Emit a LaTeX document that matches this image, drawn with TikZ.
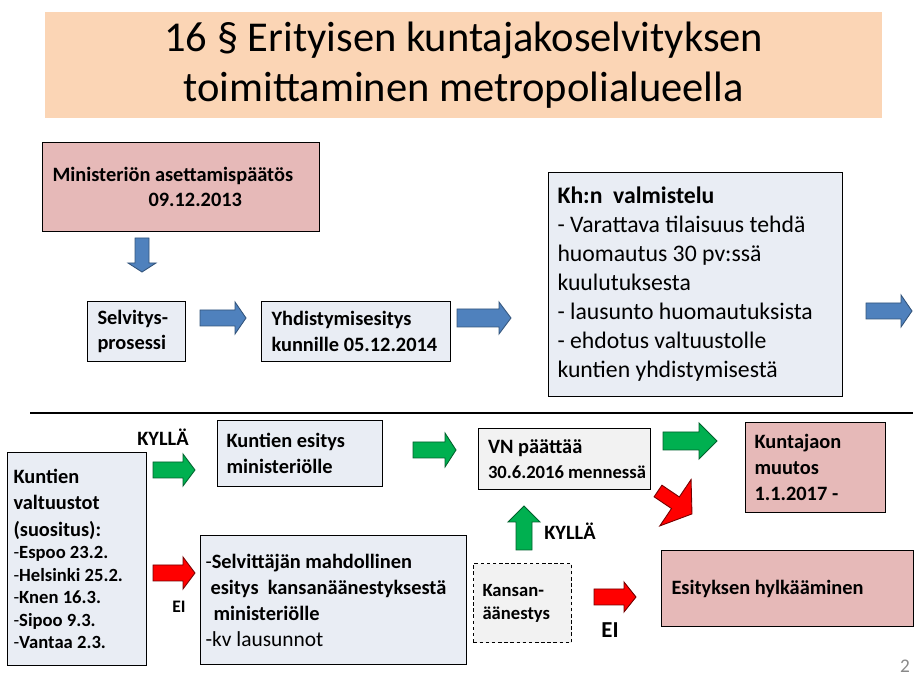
\documentclass[tikz,border=0pt]{standalone}
\usepackage{fontspec}
\setmainfont{Carlito}
\usepackage{tikz}
\definecolor{otsikko}{RGB}{251,213,181}
\definecolor{punainen}{RGB}{230,185,184}
\definecolor{vaalea}{RGB}{233,237,244}
\definecolor{harmaa}{RGB}{242,242,242}
\definecolor{sininen}{RGB}{79,129,189}
\definecolor{vihrea}{RGB}{0,176,80}
\definecolor{sivunro}{RGB}{137,137,137}

\begin{document}
\begin{tikzpicture}[x=0.02cm,y=-0.02cm,
every node/.style={font=\fontsize{11.6}{14.4}\selectfont\bfseries},
box/.style={draw,line width=0.6pt,anchor=north west,inner xsep=0.2cm,inner ysep=0pt,align=flush left},
sinnuoli/.style={fill=sininen,draw=sininen!65!black,line width=0.5pt},
vihnuoli/.style={fill=vihrea,draw=vihrea!55!black,line width=0.5pt},
punnuoli/.style={fill=red,draw=red!45!black,line width=0.5pt}]
\useasboundingbox (0,0) rectangle (920,678);
\node[anchor=north west,fill=otsikko,minimum width=16.74cm,minimum height=2.12cm,align=center,font=\fontsize{24.2}{28.4}\selectfont] (otsikko) at (45,12) {16 § Erityisen kuntajakoselvityksen\\toimittaminen metropolialueella};
\node[box,fill=punainen,minimum width=5.54cm,minimum height=1.78cm,text width=5.14cm] (asettaminen) at (42,142) {Ministeriön asettamispäätös\\\hspace*{1.92cm}09.12.2013};
\draw[sinnuoli] (135,238)--(149,238)--(149,263)--(156,263)--(142,272)--(128,263)--(135,263)--cycle;
\node[box,fill=vaalea,minimum width=1.96cm,minimum height=1.2cm,text width=1.56cm] (selvitys) at (87,301) {Selvitys-\\prosessi};
\draw[sinnuoli] (200,310)--(235,310)--(235,302)--(246,318)--(235,334)--(235,326)--(200,326)--cycle;
\node[box,fill=vaalea,minimum width=3.78cm,minimum height=1.2cm,text width=3.38cm] (esitys) at (261,301) {Yhdistymisesitys\\kunnille 05.12.2014};
\draw[sinnuoli] (457,309)--(499,309)--(499,302)--(511,318)--(499,334)--(499,327)--(457,327)--cycle;
\node[box,fill=vaalea,minimum width=5.88cm,minimum height=4.48cm,text width=5.52cm,inner xsep=0.18cm,font=\fontsize{13.5}{16.5}\selectfont] (valmistelu) at (548,172) {\textbf{Kh:n\ \ valmistelu}\\- Varattava tilaisuus tehdä\\huomautus 30 pv:ssä\\kuulutuksesta\\- lausunto huomautuksista\\- ehdotus valtuustolle\\kuntien yhdistymisestä\par\vspace{6pt}};
\draw[sinnuoli] (866,303)--(901,303)--(901,295)--(912,311)--(901,327)--(901,319)--(866,319)--cycle;
\draw[line width=0.6pt] (30,413)--(913,413);
\node (kylla) at (163,437) {KYLLÄ};
\draw[vihnuoli] (153,462)--(183,462)--(183,454)--(195,470)--(183,486)--(183,478)--(153,478)--cycle;
\node[box,fill=vaalea,minimum width=2.78cm,minimum height=4.26cm,text width=2.54cm,inner xsep=0.12cm,font=\fontsize{11.6}{15}\selectfont\bfseries] (valtuustot) at (7,452) {Kuntien\\valtuustot\\(suositus):\par\fontsize{10.6}{12.8}\selectfont\noindent\textmd{-}Espoo 23.2.\\\textmd{-}Helsinki 25.2.\\\textmd{-}Knen 16.3.\\\textmd{-}Sipoo 9.3.\\\textmd{-}Vantaa 2.3.\par\vspace{8pt}};
\draw[punnuoli] (153,565)--(183,565)--(183,557)--(195,573)--(183,589)--(183,581)--(153,581)--cycle;
\node[font=\fontsize{10}{12}\selectfont\bfseries] (ei) at (179,607) {EI};
\node[box,fill=vaalea,minimum width=3.3cm,minimum height=1.32cm,text width=2.94cm,inner xsep=0.18cm] (kunnat) at (217,420) {Kuntien esitys\\ministeriölle};
\draw[vihnuoli] (413,442)--(445,442)--(445,433)--(456,450)--(445,467)--(445,458)--(413,458)--cycle;
\node[box,fill=vaalea,minimum width=5.32cm,minimum height=2.58cm,text width=5.12cm,inner xsep=0.1cm,font=\fontsize{11.6}{14.8}\selectfont\bfseries] (selvittaja) at (200,535) {\textmd{-}Selvittäjän mahdollinen\\\hspace*{0.1cm}esitys\ \ kansanäänestyksestä\\\hspace*{0.16cm}ministeriölle\\{\mdseries\fontsize{12.2}{14.8}\selectfont -kv lausunnot}};
\node[box,fill=harmaa,minimum width=3.44cm,minimum height=1.22cm,text width=3.26cm,inner xsep=0.09cm] (vn) at (478,428) {\hspace*{0.1cm}VN päättää\\\hspace*{0.1cm}{\fontsize{10.6}{13}\selectfont 30.6.2016 mennessä}};
\draw[vihnuoli] (663,432)--(699,432)--(699,423)--(717,441)--(699,459)--(699,450)--(663,450)--cycle;
\node[box,fill=punainen,minimum width=2.8cm,minimum height=1.8cm,text width=2.44cm,inner xsep=0.18cm,font=\fontsize{11.6}{14.8}\selectfont\bfseries] (muutos) at (745,422) {Kuntajaon\\muutos\\1.1.2017 -};
\draw[punnuoli,shift={(658,491)},rotate=-34] (0,-7)--(21,-7)--(21,-28)--(41,0)--(21,28)--(21,7)--(0,7)--cycle;
\draw[vihnuoli] (516,550)--(516,522)--(508,522)--(524,506)--(540,522)--(532,522)--(532,550)--cycle;
\node (kylla2) at (570,531) {KYLLÄ};
\node[box,fill=harmaa,dash pattern=on 2pt off 1.5pt,minimum width=1.96cm,minimum height=1.58cm,text width=1.6cm,inner xsep=0.18cm,font=\fontsize{10.6}{13}\selectfont\bfseries] (aanestys) at (473,563) {Kansan-\\äänestys};
\draw[punnuoli] (594,589)--(624,589)--(624,582)--(636,597)--(624,612)--(624,605)--(594,605)--cycle;
\node[font=\fontsize{13}{15}\selectfont\bfseries] (ei2) at (610,630) {EI};
\node[box,fill=punainen,minimum width=5.04cm,minimum height=1.52cm,text width=4.64cm] (hylkays) at (661,550) {Esityksen hylkääminen};
\node[font=\fontsize{11}{13}\selectfont,text=sivunro] (sivu) at (905,666) {2};
\end{tikzpicture}
\end{document}
